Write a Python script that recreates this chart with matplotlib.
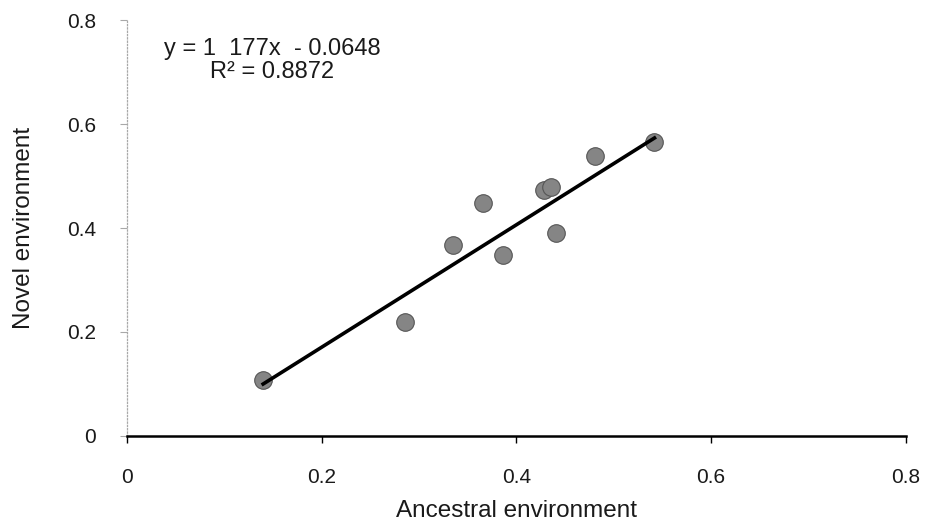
import matplotlib
matplotlib.use('Agg')
import matplotlib.pyplot as plt
import numpy as np

# values
ancestral = [0.140, 0.286, 0.335, 0.366, 0.386, 0.428, 0.436, 0.441, 0.481, 0.542]
novel = [0.108, 0.220, 0.367, 0.449, 0.348, 0.473, 0.479, 0.390, 0.538, 0.566]
slope = 1.177
intercept = -0.0648
r_squared = 0.8872
ticks = [0, 0.2, 0.4, 0.6, 0.8]
tick_labels = ['0', '0.2', '0.4', '0.6', '0.8']

plt.rcParams['font.family'] = ['Liberation Sans', 'DejaVu Sans']
txt = '#1a1a1a'

fig = plt.figure(figsize=(9.26, 5.27), dpi=100)
ax = fig.add_axes([0.137, 0.1727, 0.841, 0.7893])

ax.scatter(ancestral, novel, s=160, color='#858585', edgecolors='#555555',
           linewidths=0.8, zorder=3)

# trend line over the data range
xs = np.array([min(ancestral), max(ancestral)])
ax.plot(xs, slope * xs + intercept, color='black', linewidth=2.6, zorder=4)

ax.text(0.149, 0.745, 'y = 1  177x  - 0.0648', ha='center', va='center',
        fontsize=17, color=txt)
ax.text(0.149, 0.700, 'R² = %.4f' % r_squared, ha='center', va='center',
        fontsize=17, color=txt)

ax.set_xlim(0, 0.8)
ax.set_ylim(0, 0.8)
ax.set_xticks(ticks)
ax.set_xticklabels(tick_labels)
ax.set_yticks(ticks)
ax.set_yticklabels(tick_labels)

ax.spines['top'].set_visible(False)
ax.spines['right'].set_visible(False)
ax.spines['left'].set_color('#a8a8a8')
ax.spines['left'].set_linestyle(':')
ax.spines['left'].set_linewidth(0.9)
ax.spines['bottom'].set_color('black')
ax.spines['bottom'].set_linewidth(1.8)

ax.tick_params(axis='x', direction='out', length=5, width=1, color='black',
               labelsize=15, pad=18, labelcolor=txt)
ax.tick_params(axis='y', direction='out', length=5, width=0.8, color='#a8a8a8',
               labelsize=15, pad=17, labelcolor=txt)

ax.set_xlabel('Ancestral environment', fontsize=17.5, color=txt)
ax.set_ylabel('Novel environment', fontsize=17.5, color=txt)
ax.xaxis.set_label_coords(0.5, -0.155)
ax.yaxis.set_label_coords(-0.118, 0.5)

fig.savefig('out.png', dpi=100)
plt.close(fig)
